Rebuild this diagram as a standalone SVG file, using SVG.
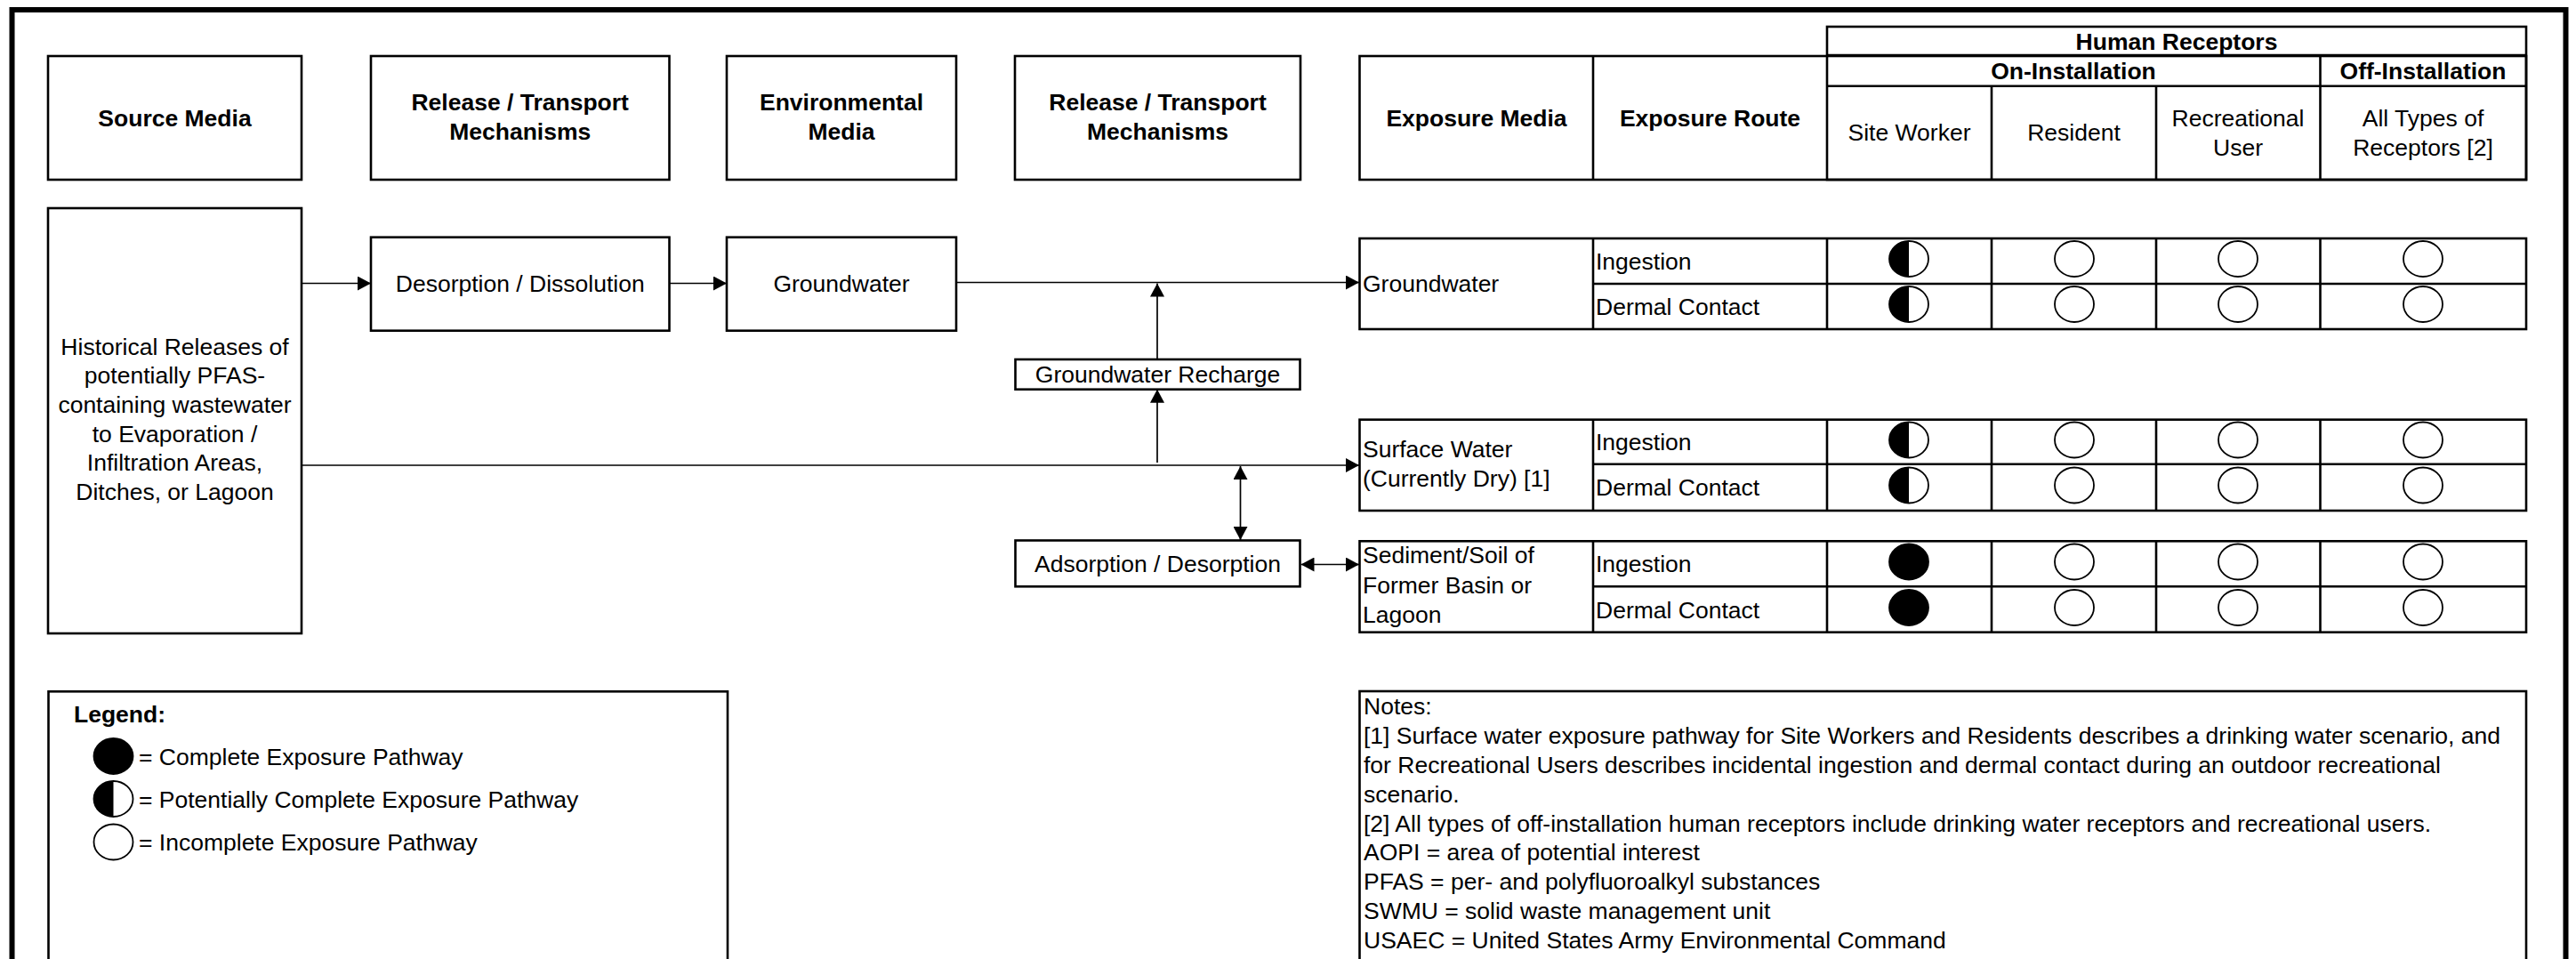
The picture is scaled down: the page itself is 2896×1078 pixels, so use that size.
<svg xmlns="http://www.w3.org/2000/svg" xmlns:xlink="http://www.w3.org/1999/xlink" width="2896" height="1078" viewBox="0 0 2896 1078">
  <style>
    text { font-family: "Liberation Sans", Arial, sans-serif; font-size: 26.5px; fill: #000; }
    .b { font-weight: bold; }
    .c { text-anchor: middle; }
    .box { fill: #fff; stroke: #000; stroke-width: 2.6; }
    .grid { fill: none; stroke: #000; stroke-width: 2.6; }
    .frame { fill: none; stroke: #000; stroke-width: 6; }
    .conn { fill: none; stroke: #000; stroke-width: 1.7; }
  </style>
  <defs>
    <marker id="arrow" viewBox="0 0 15 16" refX="15" refY="8" markerWidth="15" markerHeight="16" markerUnits="userSpaceOnUse" orient="auto-start-reverse">
      <path d="M0,0 L15,8 L0,16 Z" fill="#000"/>
    </marker>
    <!-- exposure pathway symbols, centred on the origin -->
    <g id="sym-full"><ellipse rx="22" ry="20" fill="#000" stroke="#000" stroke-width="1.8"/></g>
    <g id="sym-half">
      <ellipse rx="22" ry="20" fill="#fff" stroke="#000" stroke-width="1.8"/>
      <path d="M0,-20 A22,20 0 0 0 0,20 Z" fill="#000"/>
    </g>
    <g id="sym-none"><ellipse rx="22" ry="20" fill="#fff" stroke="#000" stroke-width="1.8"/></g>
  </defs>

  <rect width="2896" height="1078" fill="#fff"/>
  <!-- outer frame (runs past the lower edge) -->
  <rect class="frame" x="13.5" y="11" width="2871" height="1140"/>

  <!-- column headings -->
  <g id="hdr-source">
    <rect class="box" x="54" y="63" width="285" height="139"/>
    <text class="b c" x="196.5" y="141.5">Source Media</text>
  </g>
  <g id="hdr-release1">
    <rect class="box" x="417" y="63" width="335.5" height="139"/>
    <text class="b c" x="584.7" y="124">Release / Transport<tspan x="584.7" dy="33.3">Mechanisms</tspan></text>
  </g>
  <g id="hdr-envmedia">
    <rect class="box" x="817" y="63" width="258" height="139"/>
    <text class="b c" x="946" y="124">Environmental<tspan x="946" dy="33.3">Media</tspan></text>
  </g>
  <g id="hdr-release2">
    <rect class="box" x="1141" y="63" width="321" height="139"/>
    <text class="b c" x="1301.5" y="124">Release / Transport<tspan x="1301.5" dy="33.3">Mechanisms</tspan></text>
  </g>

  <!-- receptor table heading -->
  <g id="hdr-receptors">
    <rect class="grid" x="2054" y="30" width="786" height="172"/>
    <rect class="grid" x="1528.5" y="63" width="1311.5" height="139"/>
    <line class="grid" x1="2054" y1="62" x2="2840" y2="62"/>
    <line class="grid" x1="2054" y1="96.7" x2="2840" y2="96.7"/>
    <line class="grid" x1="1791" y1="63" x2="1791" y2="202"/>
    <line class="grid" x1="2239" y1="96.7" x2="2239" y2="202"/>
    <line class="grid" x1="2424" y1="96.7" x2="2424" y2="202"/>
    <line class="grid" x1="2608.5" y1="62" x2="2608.5" y2="202"/>
    <text class="b c" x="2447" y="55.5">Human Receptors</text>
    <text class="b c" x="2331" y="89">On-Installation</text>
    <text class="b c" x="2724" y="89">Off-Installation</text>
    <text class="b c" x="1660" y="141.7">Exposure Media</text>
    <text class="b c" x="1922.5" y="141.7">Exposure Route</text>
    <text class="c" x="2146.5" y="158">Site Worker</text>
    <text class="c" x="2331.5" y="158">Resident</text>
    <text class="c" x="2516" y="141.7">Recreational<tspan x="2516" dy="33.3">User</tspan></text>
    <text class="c" x="2724" y="141.7">All Types of<tspan x="2724" dy="33.3">Receptors [2]</tspan></text>
  </g>

  <!-- source and transport nodes -->
  <g id="node-source">
    <rect class="box" x="54" y="234" width="285" height="478"/>
    <text class="c" x="196.5" y="398.5">Historical Releases of<tspan x="196.5" dy="32.7">potentially PFAS-</tspan><tspan x="196.5" dy="32.7">containing wastewater</tspan><tspan x="196.5" dy="32.7">to Evaporation /</tspan><tspan x="196.5" dy="32.7">Infiltration Areas,</tspan><tspan x="196.5" dy="32.7">Ditches, or Lagoon</tspan></text>
  </g>
  <g id="node-desorption">
    <rect class="box" x="417" y="266.7" width="335.5" height="105"/>
    <text class="c" x="584.7" y="328">Desorption / Dissolution</text>
  </g>
  <g id="node-groundwater">
    <rect class="box" x="817" y="266.7" width="258" height="105"/>
    <text class="c" x="946" y="328">Groundwater</text>
  </g>
  <g id="node-recharge">
    <rect class="box" x="1141.5" y="404" width="320" height="33.7"/>
    <text class="c" x="1301.5" y="430">Groundwater Recharge</text>
  </g>
  <g id="node-adsorption">
    <rect class="box" x="1141.5" y="607.5" width="320" height="51.8"/>
    <text class="c" x="1301.5" y="643">Adsorption / Desorption</text>
  </g>

  <!-- exposure table: groundwater -->
  <g id="node-exp-groundwater">
    <rect class="grid" x="1528.5" y="268" width="1311.5" height="102"/>
    <line class="grid" x1="1791" y1="319" x2="2840" y2="319"/>
    <line class="grid" x1="1791" y1="268" x2="1791" y2="370"/>
    <line class="grid" x1="2054" y1="268" x2="2054" y2="370"/>
    <line class="grid" x1="2239" y1="268" x2="2239" y2="370"/>
    <line class="grid" x1="2424" y1="268" x2="2424" y2="370"/>
    <line class="grid" x1="2608.5" y1="268" x2="2608.5" y2="370"/>
    <text x="1532" y="328">Groundwater</text>
    <text x="1794" y="303">Ingestion</text>
    <text x="1794" y="354">Dermal Contact</text>
    <use xlink:href="#sym-half" x="2146" y="291"/>
    <use xlink:href="#sym-none" x="2332" y="291"/>
    <use xlink:href="#sym-none" x="2516" y="291"/>
    <use xlink:href="#sym-none" x="2724" y="291"/>
    <use xlink:href="#sym-half" x="2146" y="342"/>
    <use xlink:href="#sym-none" x="2332" y="342"/>
    <use xlink:href="#sym-none" x="2516" y="342"/>
    <use xlink:href="#sym-none" x="2724" y="342"/>
  </g>

  <!-- exposure table: surface water -->
  <g id="node-exp-surfacewater">
    <rect class="grid" x="1528.5" y="471.7" width="1311.5" height="102.3"/>
    <line class="grid" x1="1791" y1="521.7" x2="2840" y2="521.7"/>
    <line class="grid" x1="1791" y1="471.7" x2="1791" y2="574"/>
    <line class="grid" x1="2054" y1="471.7" x2="2054" y2="574"/>
    <line class="grid" x1="2239" y1="471.7" x2="2239" y2="574"/>
    <line class="grid" x1="2424" y1="471.7" x2="2424" y2="574"/>
    <line class="grid" x1="2608.5" y1="471.7" x2="2608.5" y2="574"/>
    <text x="1532" y="513.5">Surface Water<tspan x="1532" dy="33">(Currently Dry) [1]</tspan></text>
    <text x="1794" y="506">Ingestion</text>
    <text x="1794" y="557">Dermal Contact</text>
    <use xlink:href="#sym-half" x="2146" y="494.5"/>
    <use xlink:href="#sym-none" x="2332" y="494.5"/>
    <use xlink:href="#sym-none" x="2516" y="494.5"/>
    <use xlink:href="#sym-none" x="2724" y="494.5"/>
    <use xlink:href="#sym-half" x="2146" y="545.5"/>
    <use xlink:href="#sym-none" x="2332" y="545.5"/>
    <use xlink:href="#sym-none" x="2516" y="545.5"/>
    <use xlink:href="#sym-none" x="2724" y="545.5"/>
  </g>

  <!-- exposure table: sediment / soil -->
  <g id="node-exp-sediment">
    <rect class="grid" x="1528.5" y="608.3" width="1311.5" height="102.4"/>
    <line class="grid" x1="1791" y1="659.3" x2="2840" y2="659.3"/>
    <line class="grid" x1="1791" y1="608.3" x2="1791" y2="710.7"/>
    <line class="grid" x1="2054" y1="608.3" x2="2054" y2="710.7"/>
    <line class="grid" x1="2239" y1="608.3" x2="2239" y2="710.7"/>
    <line class="grid" x1="2424" y1="608.3" x2="2424" y2="710.7"/>
    <line class="grid" x1="2608.5" y1="608.3" x2="2608.5" y2="710.7"/>
    <text x="1532" y="633">Sediment/Soil of<tspan x="1532" dy="33.5">Former Basin or</tspan><tspan x="1532" dy="33.5">Lagoon</tspan></text>
    <text x="1794" y="643">Ingestion</text>
    <text x="1794" y="694.5">Dermal Contact</text>
    <use xlink:href="#sym-full" x="2146" y="631.5"/>
    <use xlink:href="#sym-none" x="2332" y="631.5"/>
    <use xlink:href="#sym-none" x="2516" y="631.5"/>
    <use xlink:href="#sym-none" x="2724" y="631.5"/>
    <use xlink:href="#sym-full" x="2146" y="683"/>
    <use xlink:href="#sym-none" x="2332" y="683"/>
    <use xlink:href="#sym-none" x="2516" y="683"/>
    <use xlink:href="#sym-none" x="2724" y="683"/>
  </g>

  <!-- connectors -->
  <g id="connectors">
    <line class="conn" x1="339" y1="318.5" x2="417" y2="318.5" marker-end="url(#arrow)"/>
    <line class="conn" x1="752.5" y1="318.5" x2="817" y2="318.5" marker-end="url(#arrow)"/>
    <line class="conn" x1="1075" y1="317.5" x2="1528" y2="317.5" marker-end="url(#arrow)"/>
    <line class="conn" x1="1301" y1="404" x2="1301" y2="318.5" marker-end="url(#arrow)"/>
    <line class="conn" x1="339" y1="523" x2="1528" y2="523" marker-end="url(#arrow)"/>
    <line class="conn" x1="1301" y1="520" x2="1301" y2="437.7" marker-end="url(#arrow)"/>
    <line class="conn" x1="1394.5" y1="524" x2="1394.5" y2="607" marker-start="url(#arrow)" marker-end="url(#arrow)"/>
    <line class="conn" x1="1462.5" y1="634.5" x2="1528" y2="634.5" marker-start="url(#arrow)" marker-end="url(#arrow)"/>
  </g>

  <!-- legend -->
  <g id="legend">
    <rect class="box" x="54.5" y="777.3" width="763.5" height="400"/>
    <text class="b" x="83" y="812">Legend:</text>
    <use xlink:href="#sym-full" x="127.5" y="850"/>
    <use xlink:href="#sym-half" x="127.5" y="898"/>
    <use xlink:href="#sym-none" x="127.5" y="946.5"/>
    <text x="156" y="859.5">= Complete Exposure Pathway</text>
    <text x="156" y="907.5">= Potentially Complete Exposure Pathway</text>
    <text x="156" y="956">= Incomplete Exposure Pathway</text>
  </g>

  <!-- notes -->
  <g id="notes">
    <rect class="box" x="1528.5" y="777" width="1311.5" height="400"/>
    <text x="1533" y="803.3">Notes:<tspan x="1533" dy="32.8">[1] Surface water exposure pathway for Site Workers and Residents describes a drinking water scenario, and</tspan><tspan x="1533" dy="32.8">for Recreational Users describes incidental ingestion and dermal contact during an outdoor recreational</tspan><tspan x="1533" dy="32.8">scenario.</tspan><tspan x="1533" dy="32.8">[2] All types of off-installation human receptors include drinking water receptors and recreational users.</tspan><tspan x="1533" dy="32.8">AOPI = area of potential interest</tspan><tspan x="1533" dy="32.8">PFAS = per- and polyfluoroalkyl substances</tspan><tspan x="1533" dy="32.8">SWMU = solid waste management unit</tspan><tspan x="1533" dy="32.8">USAEC = United States Army Environmental Command</tspan></text>
  </g>
</svg>
